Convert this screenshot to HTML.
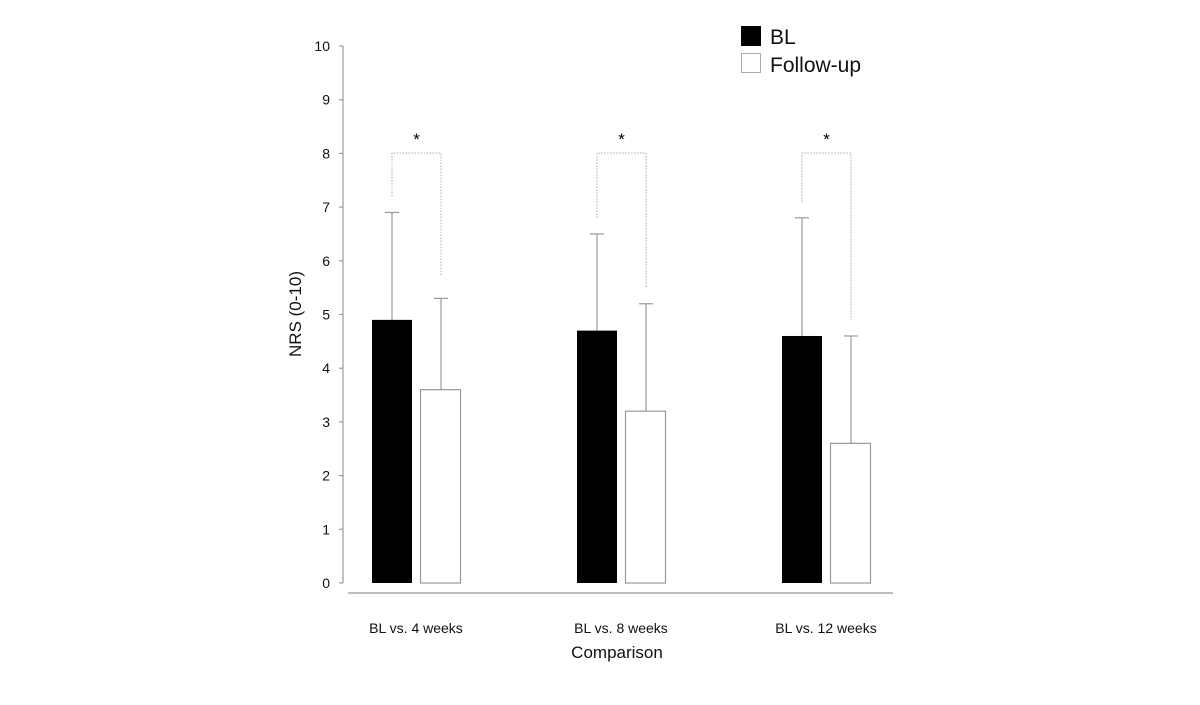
<!DOCTYPE html><html><head><style>body{margin:0;background:#fff}</style></head><body>
<svg width="1200" height="700" xmlns="http://www.w3.org/2000/svg" font-family="Liberation Sans, sans-serif">
<g stroke="#999" stroke-width="1.2" fill="none">
<line x1="343" y1="46" x2="343" y2="583"/>
<line x1="348" y1="593" x2="893" y2="593"/>
</g>
<g id="ticks" stroke="#999" stroke-width="1.2"></g>
<g font-size="14" fill="#111" text-anchor="end" id="yl"></g>
<g id="bars"></g>
<text x="416" y="633" font-size="14" text-anchor="middle" fill="#111">BL vs. 4 weeks</text>
<text x="621" y="633" font-size="14" text-anchor="middle" fill="#111">BL vs. 8 weeks</text>
<text x="826" y="633" font-size="14" text-anchor="middle" fill="#111">BL vs. 12 weeks</text>
<text x="617" y="658" font-size="17" text-anchor="middle" fill="#111">Comparison</text>
<text transform="translate(301,314) rotate(-90)" font-size="17" text-anchor="middle" fill="#111">NRS (0-10)</text>
<rect x="741" y="26" width="20" height="20" fill="#000"/>
<rect x="741.5" y="53.5" width="19" height="19" fill="#fff" stroke="#aaa"/>
<text x="770" y="44" font-size="21" fill="#111">BL</text>
<text x="770" y="72" font-size="21" fill="#111">Follow-up</text>
</svg>
<script>
const Y=v=>583-53.7*v;const ns="http://www.w3.org/2000/svg";
const t=document.getElementById('ticks'),yl=document.getElementById('yl'),b=document.getElementById('bars');
let s='',l='';for(let i=0;i<=10;i++){const y=Y(i);s+=`<line x1="339" y1="${y}" x2="343" y2="${y}"/>`;l+=`<text x="330" y="${y+5}">${i}</text>`;}
t.innerHTML=s;yl.innerHTML=l;
const g=[[372,4.9,6.9,3.6,5.3,7.2,5.7],[577,4.7,6.5,3.2,5.2,6.8,5.5],[782,4.6,6.8,2.6,4.6,7.1,4.9]];
let h='';for(const [x,a,ae,c,ce,bl,br] of g){
const cx1=x+20,cx2=x+69;
h+=`<line x1="${cx1}" y1="${Y(a)}" x2="${cx1}" y2="${Y(ae)}" stroke="#999" stroke-width="1.2"/><line x1="${cx1-7}" y1="${Y(ae)}" x2="${cx1+7}" y2="${Y(ae)}" stroke="#999" stroke-width="1.2"/>`;
h+=`<line x1="${cx2}" y1="${Y(c)}" x2="${cx2}" y2="${Y(ce)}" stroke="#999" stroke-width="1.2"/><line x1="${cx2-7}" y1="${Y(ce)}" x2="${cx2+7}" y2="${Y(ce)}" stroke="#999" stroke-width="1.2"/>`;
h+=`<rect x="${x}" y="${Y(a)}" width="40" height="${583-Y(a)}" fill="#000"/>`;
h+=`<rect x="${x+48.5}" y="${Y(c)}" width="40" height="${583-Y(c)}" fill="#fff" stroke="#999" stroke-width="1.2"/>`;
h+=`<polyline points="${cx1},${Y(bl)} ${cx1},153 ${cx2},153 ${cx2},${Y(br)}" fill="none" stroke="#aaa" stroke-dasharray="1.5,1.5"/>`;
h+=`<text x="${(cx1+cx2)/2}" y="145" font-size="17" text-anchor="middle">*</text>`;}
b.innerHTML=h;
</script>
</body></html>
